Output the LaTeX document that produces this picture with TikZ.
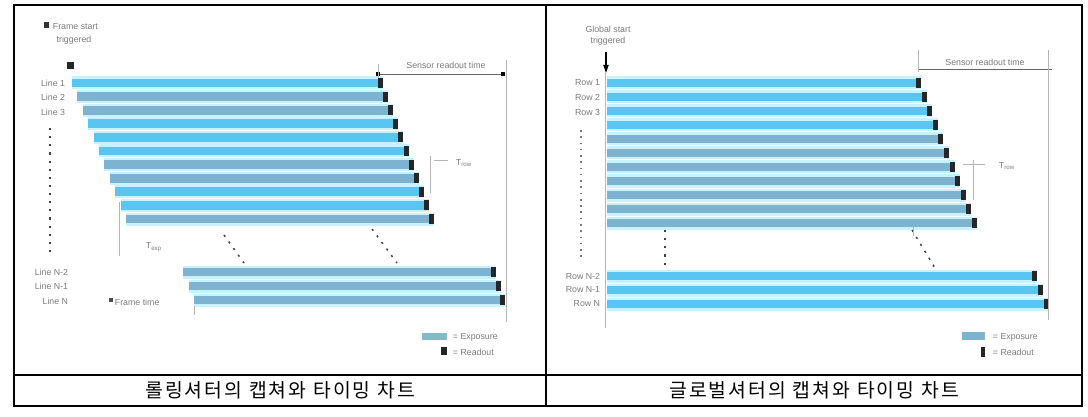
\documentclass[tikz,border=0pt]{standalone}
\usepackage{fontspec}
\setmainfont{Liberation Sans}
\newfontfamily\kr[LetterSpace=11]{Noto Sans CJK KR}
\usetikzlibrary{arrows.meta}
\definecolor{bbright}{HTML}{58C6F0}
\definecolor{bsteel}{HTML}{7DB3D0}
\definecolor{bedge}{HTML}{C8F2FF}
\definecolor{tgray}{HTML}{7A7A7A}
\definecolor{lgray}{HTML}{B5B5B5}
\tikzset{
  small/.style={font=\fontsize{6.6}{7.6}\selectfont, text=tgray, inner sep=0.5pt},
  rowlab/.style={small, anchor=east},
  caption/.style={font=\kr\fontsize{14.5}{16}\selectfont, inner sep=0pt},
  frame/.style={line width=1.1pt, black},
  guide/.style={draw=lgray, line width=0.6pt},
  dashline/.style={draw=black!75, line width=1.1pt, dash pattern=on 1.6pt off 4.5pt},
}
\newcommand{\expbar}[4]{%
  \fill[bedge] (#1,#3-6.5) rectangle (#2,#3+6.5);
  \fill[#4] (#1,#3-4.4) rectangle (#2,#3+4.4);
  \fill[black!85] (#2-5,#3-5) rectangle (#2,#3+5);
}
\begin{document}
\begin{tikzpicture}[x=0.75pt,y=-0.75pt]
\useasboundingbox (0,0) rectangle (1088,417);
% ---------- table ----------
\draw[frame] (14,5) rectangle (1082,406);
\draw[frame] (14,375) -- (1082,375);
\draw[frame] (546,5) -- (546,406);
\node[caption] (capL) at (280,390) {롤링셔터의 캡쳐와 타이밍 차트};
\node[caption] (capR) at (814,390) {글로벌셔터의 캡쳐와 타이밍 차트};

% ================= LEFT PANEL (rolling shutter) =================
\fill[black!80] (44,22) rectangle (49,28);
\node[small, anchor=west] (fstart) at (52,27) {Frame start};
\node[small] (ftrig) at (74,40) {triggered};
\fill[black!85] (67,62) rectangle (74,69);
% bars top group
\foreach \i/\c in {0/bbright,1/bsteel,2/bsteel,3/bbright,4/bbright,5/bbright,6/bsteel,7/bsteel,8/bbright,9/bbright,10/bsteel}{
  \pgfmathsetmacro\ya{83+13.6*\i}
  \pgfmathsetmacro\xa{72+5.4*\i}
  \pgfmathsetmacro\xb{383+5.1*\i}
  \expbar{\xa}{\xb}{\ya}{\c}
}
% bottom group
\foreach \i in {0,1,2}{
  \pgfmathsetmacro\ya{272+14*\i}
  \pgfmathsetmacro\xa{183+5.5*\i}
  \pgfmathsetmacro\xb{496+4.5*\i}
  \expbar{\xa}{\xb}{\ya}{bsteel}
}
\node[rowlab] (l1) at (66,83) {Line 1};
\node[rowlab] (l2) at (66,97) {Line 2};
\node[rowlab] (l3) at (66,112) {Line 3};
\draw[dashline] (50,128) -- (50,257);
\node[rowlab] (ln2) at (69,272) {Line N-2};
\node[rowlab] (ln1) at (69,286) {Line N-1};
\node[rowlab] (ln) at (69,301) {Line N};
\fill[black!70] (109,298) rectangle (113,302);
\node[small, anchor=west] (ftime) at (114,302) {Frame time};
\draw[guide] (194,306) -- (194,315);
% exposure marker lower left
\draw[guide] (119,202) -- (119,256);
\node[small, anchor=west] (texpL) at (145,247) {T$_\mathrm{exp}$};
% continuation dashes
\coordinate (dLa) at (224,235); \coordinate (dLb) at (244,263);
\coordinate (dLc) at (372,229); \coordinate (dLd) at (397,263);
\draw[dashline] (dLa) -- (dLb);
\draw[dashline] (dLc) -- (dLd);
% sensor readout time
\node[small] (srtL) at (446,65) {Sensor readout time};
\coordinate (srtLa) at (378,74); \coordinate (srtLb) at (503,74);
\draw[guide, draw=black!60] (srtLa) -- (srtLb);
\fill[black] (376,72) rectangle (380,76);
\fill[black] (501,72) rectangle (505,76);
\draw[guide] (378,64) -- (378,78);
\draw[guide] (506,60) -- (506,322);
% row time
\draw[guide] (430,156) -- (430,193);
\draw[guide] (434,160) -- (448,160);
\node[small, anchor=west] (trowL) at (455,163) {T$_\mathrm{row}$};
% legend
\fill[bsteel!60!teal!70] (422,333) rectangle (447,340);
\node[small, anchor=west] (legEL) at (452,337) {= Exposure};
\fill[black!85] (441,347) rectangle (447,355);
\node[small, anchor=west] (legRL) at (452,352) {= Readout};

% ================= RIGHT PANEL (global shutter) =================
\node[small] (gstart) at (608,29) {Global start};
\node[small] (gtrig) at (608,41) {triggered};
\coordinate (arrA) at (606,52); \coordinate (arrB) at (606,73);
\draw[black, line width=0.8pt, -{Triangle[length=6pt,width=4pt]}] (arrA) -- (arrB);
\draw[guide] (605,73) -- (605,328);
\foreach \i/\c in {0/bbright,1/bbright,2/bbright,3/bbright,4/bsteel,5/bsteel,6/bsteel,7/bsteel,8/bsteel,9/bsteel,10/bsteel}{
  \pgfmathsetmacro\ya{83+14*\i}
  \pgfmathsetmacro\xb{921+5.6*\i}
  \expbar{607}{\xb}{\ya}{\c}
}
\foreach \i in {0,1,2}{
  \pgfmathsetmacro\ya{276+14*\i}
  \pgfmathsetmacro\xb{1037+6*\i}
  \expbar{607}{\xb}{\ya}{bbright}
}
\node[rowlab] (r1) at (601,83) {Row 1};
\node[rowlab] (r2) at (601,97) {Row 2};
\node[rowlab] (r3) at (601,112) {Row 3};
\draw[draw=tgray, line width=1pt, dash pattern=on 1.2pt off 3.5pt] (581,130) -- (581,260);
\node[rowlab] (rn2) at (601,276) {Row N-2};
\node[rowlab] (rn1) at (601,290) {Row N-1};
\node[rowlab] (rn) at (601,304) {Row N};
% continuation dashes
\coordinate (dRa) at (665,230); \coordinate (dRb) at (665,268);
\coordinate (dRc) at (912,230); \coordinate (dRd) at (935,268);
\draw[dashline] (dRa) -- (dRb);
\draw[dashline] (dRc) -- (dRd);
\draw[guide] (913,227) -- (913,236);
% sensor readout time
\node[small] (srtR) at (985,62) {Sensor readout time};
\coordinate (srtRa) at (918,69); \coordinate (srtRb) at (1052,69);
\draw[guide, draw=black!60] (srtRa) -- (srtRb);
\draw[guide] (918,50) -- (918,72);
\draw[guide] (1048,50) -- (1048,320);
% row time
\draw[guide] (973,160) -- (973,200);
\draw[guide] (963,164) -- (985,164);
\node[small, anchor=west] (trowR) at (998,166) {T$_\mathrm{row}$};
% legend
\fill[bsteel] (962,332) rectangle (985,340);
\node[small, anchor=west] (legER) at (992,337) {= Exposure};
\fill[black!85] (981,347) rectangle (985,357);
\node[small, anchor=west] (legRR) at (992,352) {= Readout};
\end{tikzpicture}
\end{document}
